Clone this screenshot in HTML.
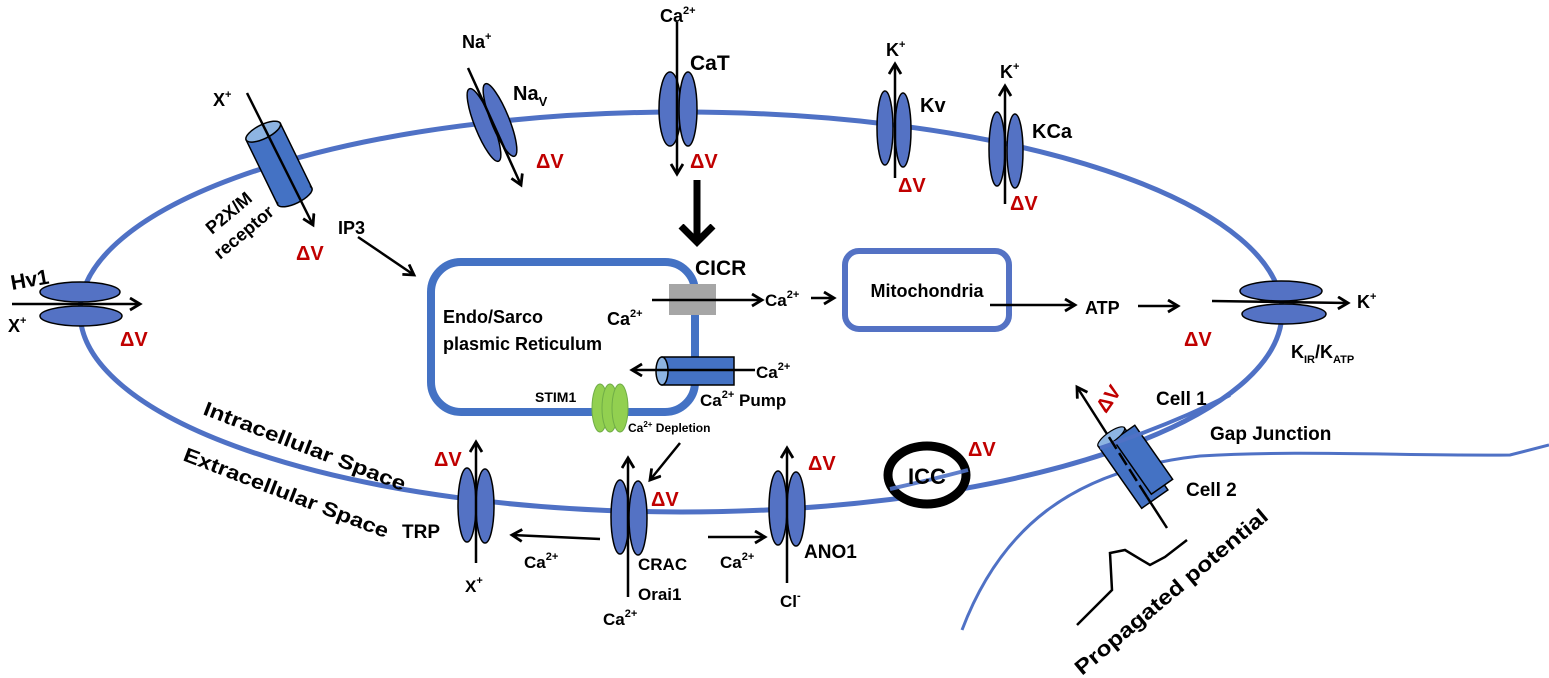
<!DOCTYPE html>
<html><head><meta charset="utf-8"><style>
html,body{margin:0;padding:0;background:#fff;}
svg{display:block;}
text{font-family:"Liberation Sans",sans-serif;font-weight:bold;fill:#000;}
.r{fill:#C00000;}
</style></head><body>
<svg width="1549" height="678" viewBox="0 0 1549 678" xmlns="http://www.w3.org/2000/svg">
<defs>
<marker id="ah" markerWidth="16" markerHeight="16" refX="11" refY="7" orient="auto" markerUnits="userSpaceOnUse">
<path d="M1,1 L11,7 L1,13" fill="none" stroke="#000" stroke-width="2.8"/>
</marker>
<marker id="ahb" markerWidth="30" markerHeight="40" refX="18" refY="20" orient="auto" markerUnits="userSpaceOnUse">
<path d="M2,4 L18,20 L2,36" fill="none" stroke="#000" stroke-width="7"/>
</marker>
</defs>
<path d="M962,630 C1000,530 1070,470 1200,456 C1300,450 1400,456 1510,455 L1549,445" fill="none" stroke="#4F71C5" stroke-width="3"/>
<ellipse cx="681" cy="312" rx="601" ry="200" fill="none" stroke="#4F71C5" stroke-width="5"/>

<rect x="431" y="262" width="264" height="150" rx="30" fill="none" stroke="#4472C4" stroke-width="8"/>
<rect x="845" y="251" width="164" height="78" rx="14" fill="none" stroke="#5472C4" stroke-width="6"/>

<g stroke="#000" stroke-width="2.5" fill="none" marker-end="url(#ah)">
<line x1="358" y1="237" x2="414" y2="275"/>
<line x1="811" y1="298" x2="834" y2="298"/>
<line x1="990" y1="305" x2="1075" y2="305"/>
<line x1="1138" y1="306" x2="1178" y2="306"/>
<line x1="680" y1="443" x2="650" y2="480"/>
<line x1="600" y1="539" x2="512" y2="535"/>
<line x1="708" y1="537" x2="765" y2="537"/>
</g>
<line x1="697" y1="180" x2="697" y2="242" stroke="#000" stroke-width="7" marker-end="url(#ahb)"/>

<ellipse cx="80" cy="292" rx="40" ry="10" fill="#5472C4" stroke="#000" stroke-width="1.5"/>
<ellipse cx="81" cy="316" rx="41" ry="10" fill="#5472C4" stroke="#000" stroke-width="1.5"/>
<line x1="12" y1="304" x2="140" y2="304" stroke="#000" stroke-width="2.5" marker-end="url(#ah)"/>

<g transform="translate(279,164) rotate(-26)">
<rect x="-19" y="-36" width="38" height="72" fill="#4472C4" stroke="#000" stroke-width="1.5"/>
<ellipse cx="0" cy="36" rx="19" ry="7" fill="#4472C4" stroke="#000" stroke-width="1.5"/>
<rect x="-18" y="-36" width="36" height="70" fill="#4472C4"/>
<ellipse cx="0" cy="-36" rx="19" ry="7" fill="#8DB4E2" stroke="#000" stroke-width="1.5"/>
</g>
<line x1="247" y1="93" x2="313" y2="225" stroke="#000" stroke-width="2.5" marker-end="url(#ah)"/>

<ellipse cx="484" cy="125" rx="9" ry="39" transform="rotate(-22 484 125)" fill="#5472C4" stroke="#000" stroke-width="1.5"/>
<ellipse cx="500" cy="120" rx="9" ry="39" transform="rotate(-22 500 120)" fill="#5472C4" stroke="#000" stroke-width="1.5"/>
<line x1="468" y1="68" x2="521" y2="185" stroke="#000" stroke-width="2.5" marker-end="url(#ah)"/>

<ellipse cx="670" cy="109" rx="11" ry="37" fill="#5472C4" stroke="#000" stroke-width="1.5"/>
<ellipse cx="688" cy="109" rx="9" ry="37" fill="#5472C4" stroke="#000" stroke-width="1.5"/>
<line x1="677" y1="22" x2="677" y2="174" stroke="#000" stroke-width="2.5" marker-end="url(#ah)"/>

<ellipse cx="885" cy="128" rx="8" ry="37" fill="#5472C4" stroke="#000" stroke-width="1.5"/>
<ellipse cx="903" cy="130" rx="8" ry="37" fill="#5472C4" stroke="#000" stroke-width="1.5"/>
<line x1="895" y1="178" x2="895" y2="64" stroke="#000" stroke-width="2.5" marker-end="url(#ah)"/>
<ellipse cx="997" cy="149" rx="8" ry="37" fill="#5472C4" stroke="#000" stroke-width="1.5"/>
<ellipse cx="1015" cy="151" rx="8" ry="37" fill="#5472C4" stroke="#000" stroke-width="1.5"/>
<line x1="1005" y1="204" x2="1005" y2="86" stroke="#000" stroke-width="2.5" marker-end="url(#ah)"/>

<ellipse cx="1281" cy="291" rx="41" ry="10" fill="#5472C4" stroke="#000" stroke-width="1.5"/>
<ellipse cx="1284" cy="314" rx="42" ry="10" fill="#5472C4" stroke="#000" stroke-width="1.5"/>
<line x1="1212" y1="301" x2="1348" y2="303" stroke="#000" stroke-width="2.5" marker-end="url(#ah)"/>

<rect x="669" y="284" width="47" height="31" fill="#A6A6A6"/>
<line x1="652" y1="300" x2="762" y2="300" stroke="#000" stroke-width="2.5" marker-end="url(#ah)"/>

<rect x="662" y="357" width="72" height="28" fill="#4472C4" stroke="#000" stroke-width="1.5"/>
<ellipse cx="662" cy="371" rx="6" ry="14" fill="#8DB4E2" stroke="#000" stroke-width="1.5"/>
<line x1="755" y1="370" x2="632" y2="370" stroke="#000" stroke-width="2.5" marker-end="url(#ah)"/>

<ellipse cx="600" cy="408" rx="8" ry="24" fill="#92D050" stroke="#70AD47" stroke-width="1"/>
<ellipse cx="610" cy="408" rx="8" ry="24" fill="#92D050" stroke="#70AD47" stroke-width="1"/>
<ellipse cx="620" cy="408" rx="8" ry="24" fill="#92D050" stroke="#70AD47" stroke-width="1"/>

<ellipse cx="467" cy="505" rx="9" ry="37" fill="#5472C4" stroke="#000" stroke-width="1.5"/>
<ellipse cx="485" cy="506" rx="9" ry="37" fill="#5472C4" stroke="#000" stroke-width="1.5"/>
<line x1="476" y1="563" x2="476" y2="442" stroke="#000" stroke-width="2.5" marker-end="url(#ah)"/>
<ellipse cx="620" cy="517" rx="9" ry="37" fill="#5472C4" stroke="#000" stroke-width="1.5"/>
<ellipse cx="638" cy="518" rx="9" ry="37" fill="#5472C4" stroke="#000" stroke-width="1.5"/>
<line x1="628" y1="597" x2="628" y2="458" stroke="#000" stroke-width="2.5" marker-end="url(#ah)"/>
<ellipse cx="778" cy="508" rx="9" ry="37" fill="#5472C4" stroke="#000" stroke-width="1.5"/>
<ellipse cx="796" cy="509" rx="9" ry="37" fill="#5472C4" stroke="#000" stroke-width="1.5"/>
<line x1="787" y1="583" x2="787" y2="448" stroke="#000" stroke-width="2.5" marker-end="url(#ah)"/>

<ellipse cx="927" cy="475" rx="39" ry="29" fill="#fff" stroke="#000" stroke-width="9"/>
<path d="M890,489 Q930,480 968,470" fill="none" stroke="#4F71C5" stroke-width="4" opacity="0.9"/>
<text x="927" y="484" font-size="22" text-anchor="middle">ICC</text>

<g transform="translate(1133,468) rotate(-35)">
<rect x="-16" y="-38" width="32" height="76" fill="#4472C4" stroke="#000" stroke-width="1.5"/>
<rect x="0" y="-34" width="26" height="66" fill="#4472C4" stroke="#000" stroke-width="1.5"/>
<ellipse cx="0" cy="-38" rx="16" ry="5" fill="#8DB4E2" stroke="#000" stroke-width="1.2"/>
</g>
<path d="M1100,448 Q1170,425 1230,395" fill="none" stroke="#4F71C5" stroke-width="4"/>
<line x1="1167" y1="528" x2="1147" y2="497" stroke="#000" stroke-width="2.5"/>
<line x1="1147" y1="497" x2="1107" y2="434" stroke="#000" stroke-width="2.5" stroke-dasharray="14,5"/>
<line x1="1107" y1="434" x2="1077" y2="387" stroke="#000" stroke-width="2.5" marker-end="url(#ah)"/>
<polyline points="1077,625 1112,590 1110,553 1125,550 1150,565 1165,557 1187,540" fill="none" stroke="#000" stroke-width="2.5"/>

<text x="12" y="290" font-size="21" transform="rotate(-10 12 290)">Hv1</text>
<text x="8" y="332" font-size="18">X<tspan font-size="11" dy="-8">+</tspan></text>
<text class="r" x="120" y="346" font-size="20">ΔV</text>
<text x="213" y="106" font-size="18">X<tspan font-size="11" dy="-8">+</tspan></text>
<text x="212" y="235" font-size="18" transform="rotate(-40 212 235)">P2X/M</text>
<text x="220" y="260" font-size="18" transform="rotate(-40 220 260)">receptor</text>
<text class="r" x="296" y="260" font-size="20">ΔV</text>
<text x="338" y="234" font-size="18">IP3</text>
<text x="462" y="48" font-size="18">Na<tspan font-size="11" dy="-8">+</tspan></text>
<text x="513" y="100" font-size="20">Na<tspan font-size="13" dy="6">V</tspan></text>
<text class="r" x="536" y="168" font-size="20">ΔV</text>
<text x="660" y="22" font-size="18">Ca<tspan font-size="11" dy="-8">2+</tspan></text>
<text x="690" y="70" font-size="21">CaT</text>
<text class="r" x="690" y="168" font-size="20">ΔV</text>
<text x="886" y="56" font-size="18">K<tspan font-size="11" dy="-8">+</tspan></text>
<text x="920" y="112" font-size="20">Kv</text>
<text class="r" x="898" y="192" font-size="20">ΔV</text>
<text x="1000" y="78" font-size="18">K<tspan font-size="11" dy="-8">+</tspan></text>
<text x="1032" y="138" font-size="20">KCa</text>
<text class="r" x="1010" y="210" font-size="20">ΔV</text>
<text x="695" y="275" font-size="21">CICR</text>
<text x="443" y="323" font-size="18">Endo/Sarco</text>
<text x="443" y="350" font-size="18">plasmic Reticulum</text>
<text x="607" y="325" font-size="18">Ca<tspan font-size="11" dy="-8">2+</tspan></text>
<text x="765" y="306" font-size="17">Ca<tspan font-size="11" dy="-8">2+</tspan></text>
<text x="927" y="297" font-size="18" text-anchor="middle">Mitochondria</text>
<text x="1085" y="314" font-size="18">ATP</text>
<text x="1357" y="308" font-size="18">K<tspan font-size="11" dy="-8">+</tspan></text>
<text class="r" x="1184" y="346" font-size="20">ΔV</text>
<text x="1291" y="358" font-size="18">K<tspan font-size="11" dy="5">IR</tspan><tspan dy="-5">/K</tspan><tspan font-size="11" dy="5">ATP</tspan></text>
<text x="756" y="378" font-size="17">Ca<tspan font-size="11" dy="-8">2+</tspan></text>
<text x="700" y="406" font-size="17">Ca<tspan font-size="11" dy="-8">2+</tspan><tspan dy="8"> Pump</tspan></text>
<text x="535" y="402" font-size="14">STIM1</text>
<text x="628" y="432" font-size="12">Ca<tspan font-size="8" dy="-5">2+</tspan><tspan dy="5"> Depletion</tspan></text>
<text x="202" y="414" font-size="20" transform="rotate(21 202 414)" textLength="215" lengthAdjust="spacingAndGlyphs">Intracellular Space</text>
<text x="182" y="460" font-size="20" transform="rotate(21 182 460)" textLength="218" lengthAdjust="spacingAndGlyphs">Extracellular Space</text>
<text class="r" x="434" y="466" font-size="20">ΔV</text>
<text x="402" y="538" font-size="19">TRP</text>
<text x="465" y="592" font-size="17">X<tspan font-size="11" dy="-8">+</tspan></text>
<text x="524" y="568" font-size="17">Ca<tspan font-size="11" dy="-8">2+</tspan></text>
<text class="r" x="651" y="506" font-size="20">ΔV</text>
<text x="638" y="570" font-size="17">CRAC</text>
<text x="638" y="600" font-size="17">Orai1</text>
<text x="603" y="625" font-size="17">Ca<tspan font-size="11" dy="-8">2+</tspan></text>
<text x="720" y="568" font-size="17">Ca<tspan font-size="11" dy="-8">2+</tspan></text>
<text class="r" x="808" y="470" font-size="20">ΔV</text>
<text x="804" y="558" font-size="19">ANO1</text>
<text x="780" y="607" font-size="17">Cl<tspan font-size="11" dy="-8">-</tspan></text>
<text class="r" x="968" y="456" font-size="20">ΔV</text>
<text class="r" x="1106" y="414" font-size="20" transform="rotate(-55 1106 414)">ΔV</text>
<text x="1156" y="405" font-size="19">Cell 1</text>
<text x="1210" y="440" font-size="19">Gap Junction</text>
<text x="1186" y="496" font-size="19">Cell 2</text>
<text x="1082" y="676" font-size="21" transform="rotate(-40 1082 676)" textLength="245" lengthAdjust="spacingAndGlyphs">Propagated potential</text>
</svg>
</body></html>
